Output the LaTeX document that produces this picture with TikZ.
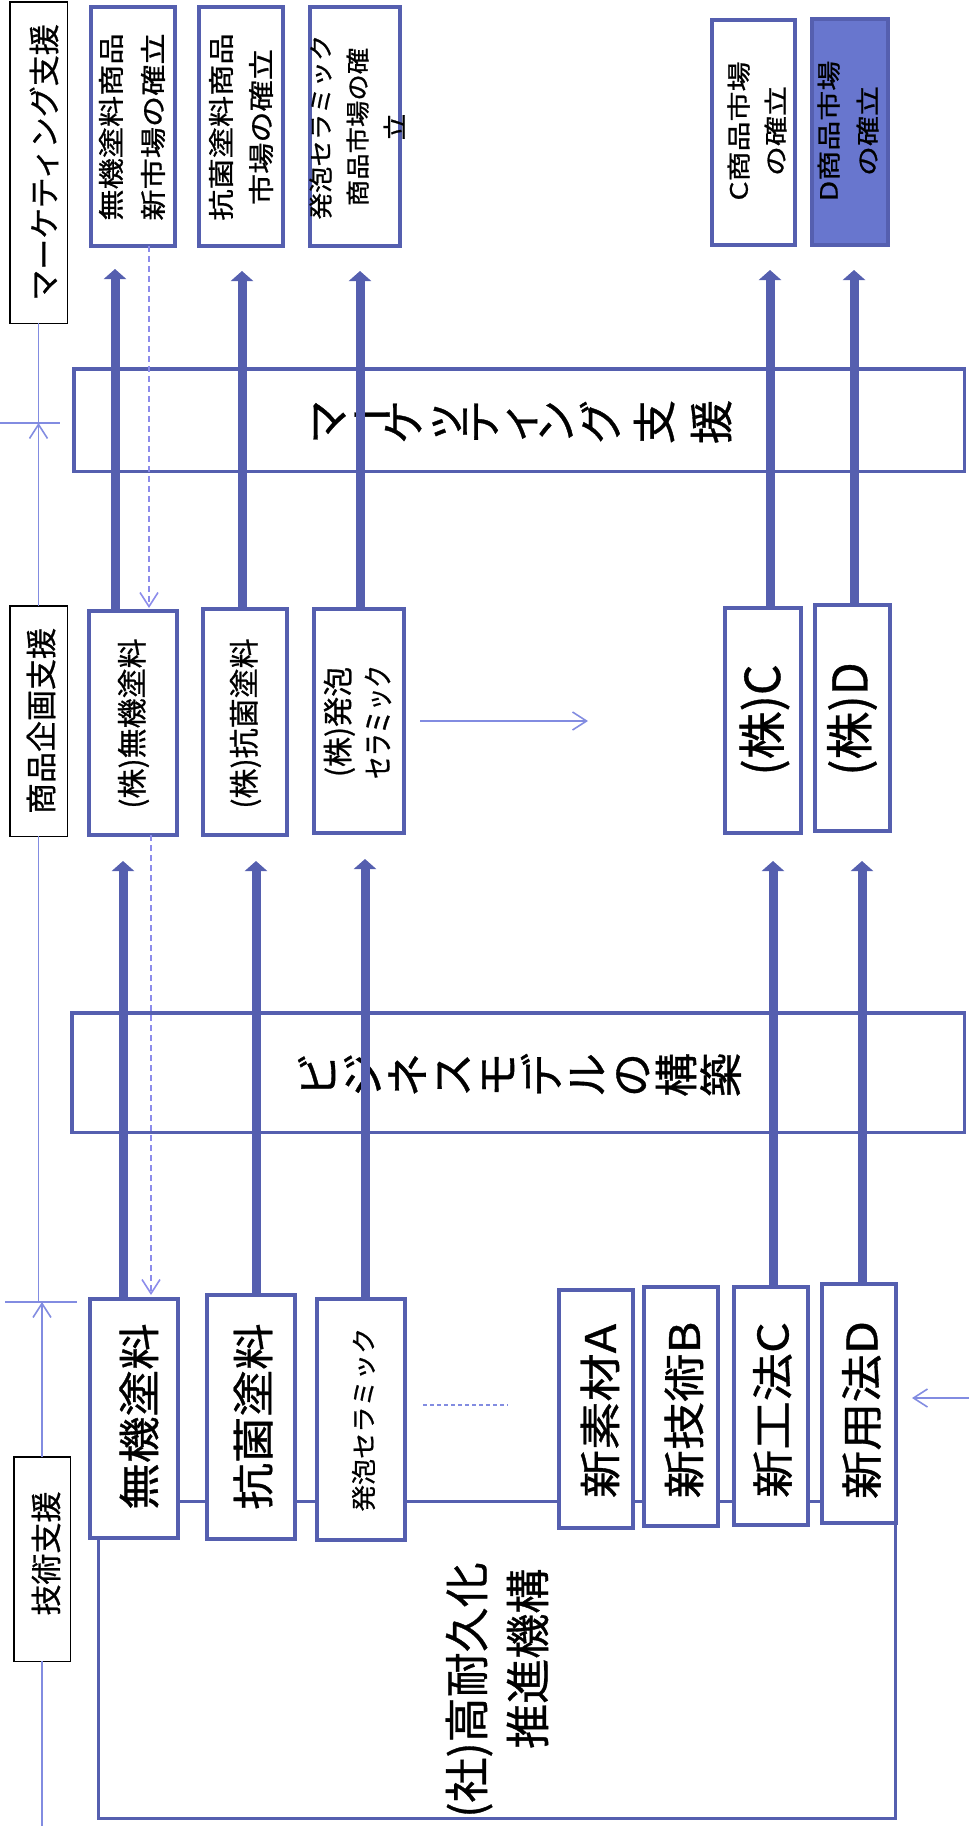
\documentclass[tikz,border=0pt]{standalone}
\usepackage{fontspec}
\setmainfont{Noto Sans CJK JP}[FakeBold=0.8]
\usepackage{graphicx}
\usetikzlibrary{arrows.meta,calc}
\definecolor{bx}{RGB}{85,95,175}
\definecolor{dfill}{RGB}{104,118,206}
\definecolor{thinc}{RGB}{130,140,225}
\definecolor{dashc}{RGB}{140,140,235}
\newcommand\vfs[2]{\fontsize{#1pt}{#2pt}\selectfont}
\tikzset{
  lbl/.style={draw=black, line width=1.5pt, fill=white, inner sep=0pt, outer sep=0pt},
  bbox/.style={draw=bx, line width=4pt, fill=white, inner sep=0pt, outer sep=0pt},
  bigbox/.style={draw=bx, line width=3.5pt, inner sep=0pt, outer sep=0pt},
  vt/.style n args={4}{rotate=90, xscale=#3, inner sep=0pt, align=#4, font={\vfs{#1}{#2}}},
  bar/.style={draw=bx, line width=9pt, -{Triangle[length=10pt,width=22pt]}},
  tl/.style={draw=thinc, line width=1.6pt},
  tlarrow/.style={draw=thinc, line width=1.6pt, -{Straight Barb[length=14pt,width=18pt]}},
  dsh/.style={draw=dashc, line width=1.6pt, dash pattern=on 6pt off 4pt, -{Straight Barb[length=14pt,width=18pt]}},
}
\begin{document}
\lineskiplimit=-100pt
\begin{tikzpicture}[x=1pt,y=-1pt]
\useasboundingbox (0,0) rectangle (969,1826);

% big background boxes
\node[bigbox, minimum width=890.5pt, minimum height=102.5pt] (mksup) at (519,420) {};
\node[bigbox, minimum width=892.5pt, minimum height=119.5pt] (biz) at (518,1072.5) {};
\node[bigbox, line width=3pt, minimum width=797pt, minimum height=317pt] (org) at (497,1660) {};

% phase labels
\node[lbl, minimum width=57.5pt, minimum height=321.5pt] (lblM) at (38.5,162.5) {};
\node[lbl, minimum width=57.5pt, minimum height=230.5pt] (lblP) at (38.5,721) {};
\node[lbl, minimum width=56.5pt, minimum height=204.5pt] (lblT) at (42,1559) {};
\node[vt={31}{36}{1}{center}] at (44,162.5) {マーケティング支援};
\node[vt={31}{36}{1}{center}] at (41,721) {商品企画支援};
\node[vt={31}{36}{1}{center}] at (46,1553.5) {技術支援};

% market boxes
\node[bbox, minimum width=84pt, minimum height=239pt] (mk1) at (133,126.5) {};
\node[bbox, minimum width=84pt, minimum height=239pt] (mk2) at (241,126.5) {};
\node[bbox, minimum width=90pt, minimum height=239pt] (mk3) at (355,126.5) {};
\node[bbox, minimum width=83pt, minimum height=225pt] (mkC) at (753.5,132.5) {};
\node[bbox, fill=dfill, minimum width=76pt, minimum height=226pt] (mkD) at (850,132) {};
\node[vt={26}{42}{1.2}{center}] at (132,127) {無機塗料商品\\新市場の確立};
\node[vt={26}{40}{1.2}{center}] at (241,127) {抗菌塗料商品\\市場の確立};
\node[vt={24}{37}{1.1}{center}] at (357,127) {発泡セラミック\\商品市場の確\\立};
\node[vt={24}{37}{1.25}{center}] at (757,131) {C商品市場\\の確立};
\node[vt={24}{39}{1.25}{center}] at (848,131) {D商品市場\\の確立};

% company boxes
\node[bbox, minimum width=88pt, minimum height=224pt] (kab1) at (133,723) {};
\node[bbox, minimum width=84pt, minimum height=226pt] (kab2) at (245,722) {};
\node[bbox, minimum width=90pt, minimum height=224pt] (kab3) at (359,721) {};
\node[bbox, minimum width=76pt, minimum height=225pt] (kabC) at (763,720.5) {};
\node[bbox, minimum width=75pt, minimum height=226pt] (kabD) at (852.5,718) {};
\node[vt={30}{36}{1}{center}] at (133.5,723.5) {(株)無機塗料};
\node[vt={30}{36}{1}{center}] at (245.5,723.5) {(株)抗菌塗料};
\node[vt={30}{40}{1}{center}] at (357.5,722) {(株)発泡\\\scalebox{0.76}[1]{セラミック}};
\node[vt={48}{56}{1}{center}] at (764.5,720) {(株)C};
\node[vt={48}{56}{1}{center}] at (852,719) {(株)D};

% technology boxes
\node[bbox, minimum width=88pt, minimum height=239pt] (lo1) at (134,1418.5) {};
\node[bbox, minimum width=88pt, minimum height=244pt] (lo2) at (251,1417) {};
\node[bbox, minimum width=88pt, minimum height=241pt] (lo3) at (361,1419.5) {};
\node[bbox, minimum width=74pt, minimum height=238pt] (nA) at (596,1409) {};
\node[bbox, minimum width=74pt, minimum height=239pt] (nB) at (681,1406.5) {};
\node[bbox, minimum width=74pt, minimum height=238pt] (nC) at (771,1406) {};
\node[bbox, minimum width=74pt, minimum height=239pt] (nD) at (859,1403.5) {};
\node[vt={42}{50}{1.11}{center}] at (139,1416.5) {無機塗料};
\node[vt={42}{50}{1.11}{center}] at (253,1416.5) {抗菌塗料};
\node[vt={25}{30}{1.05}{center}] at (363.5,1419.5) {発泡セラミック};
\node[vt={42}{50}{1.15}{center}] at (600,1411) {新素材A};
\node[vt={42}{50}{1.15}{center}] at (684,1410) {新技術B};
\node[vt={42}{50}{1.15}{center}] at (772.5,1410) {新工法C};
\node[vt={42}{50}{1.15}{center}] at (861.5,1410) {新用法D};

% big box texts
\node[vt={44}{38}{1}{center}] at (522.5,422) {マ\\\rotatebox[origin=c]{-90}{ー}\\ケ\\ッ\\テ\\ィ\\ン\\[7pt]グ\\[16pt]支\\[19pt]援};
\node[vt={44}{44.8}{1}{center}] at (519.5,1075) {ビ\\ジ\\ネ\\ス\\モ\\デ\\ル\\の\\構\\築};
\node[vt={45}{61}{1}{left}] at (497,1690) {(社)高耐久化\\\hspace*{69pt}推進機構};

% timeline
\coordinate (t1a) at (0,423);
\coordinate (t1b) at (60,423);
\coordinate (t2a) at (5,1302);
\coordinate (t2b) at (77,1302);
\coordinate (tend) at (42,1826);
\draw[tl] (t1a) -- (t1b);
\draw[tl] (t2a) -- (t2b);
\draw[tl] (lblM.south) -- (lblM.south |- t1a);
\draw[tlarrow] (lblP.north) -- (lblP.north |- t1a);
\draw[tl] (lblP.south) -- (lblP.south |- t2a);
\draw[tlarrow] (lblT.north) -- (lblT.north |- t2a);
\draw[tl] (lblT.south) -- (lblT.south |- tend);

% thin arrows
\coordinate (hend) at (588,721);
\draw[tlarrow] ($(kab3.east)+(16,0)$) -- (hend);
\coordinate (dl1) at (423,1405);
\coordinate (dl2) at (508,1405);
\draw[draw=thinc, line width=1.2pt, dash pattern=on 4pt off 3pt] (dl1) -- (dl2);
\coordinate (rin) at (969,1398);
\coordinate (rtip) at (912,1398);
\draw[tlarrow] (rin) -- (rtip);

% dashed feedback
\draw[dsh, shorten >=3pt] ($(mk1.south)+(16,0)$) -- ($(kab1.north)+(16,0)$);
\draw[dsh, shorten >=4pt] ($(kab1.south)+(18,0)$) -- ($(lo1.north)+(17,0)$);

% thick arrows upper
\draw[bar, shorten >=23pt] ($(kab1.north)+(-18,0)$) -- ($(mk1.south)+(-18,0)$);
\draw[bar, shorten >=25pt] ($(kab2.north)+(-3,0)$) -- ($(mk2.south)+(1,0)$);
\draw[bar, shorten >=25pt] ($(kab3.north)+(1,0)$) -- ($(mk3.south)+(5,0)$);
\draw[bar, shorten >=25pt] ($(kabC.north)+(7,0)$) -- ($(mkC.south)+(16.5,0)$);
\draw[bar, shorten >=25pt] ($(kabD.north)+(1.5,0)$) -- ($(mkD.south)+(4,0)$);
% thick arrows lower
\draw[bar, shorten >=26pt] ($(lo1.north)+(-11,0)$) -- ($(kab1.south)+(-10,0)$);
\draw[bar, shorten >=26pt] ($(lo2.north)+(5,0)$) -- ($(kab2.south)+(11,0)$);
\draw[bar, shorten >=26pt] ($(lo3.north)+(4,0)$) -- ($(kab3.south)+(6,0)$);
\draw[bar, shorten >=28pt] ($(nC.north)+(2,0)$) -- ($(kabC.south)+(10,0)$);
\draw[bar, shorten >=30pt] ($(nD.north)+(3,0)$) -- ($(kabD.south)+(9.5,0)$);
\end{tikzpicture}
\end{document}
